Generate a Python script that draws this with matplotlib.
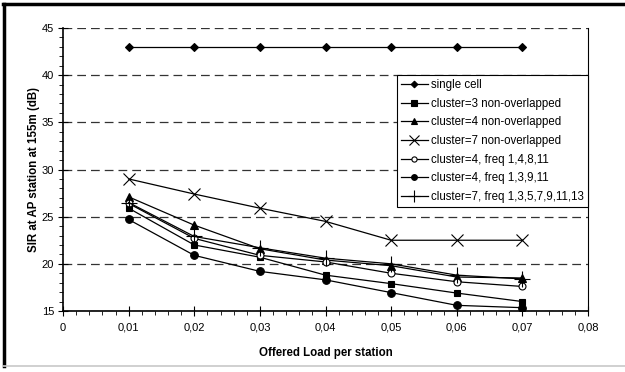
import matplotlib
matplotlib.use("Agg")
import matplotlib.pyplot as plt
from matplotlib.lines import Line2D
from matplotlib.ticker import MultipleLocator, FuncFormatter

plt.rcParams['font.family'] = ['Liberation Sans', 'DejaVu Sans']

load = [0.01, 0.02, 0.03, 0.04, 0.05, 0.06, 0.07]

single_cell = [43, 43, 43, 43, 43, 43, 43]
cl3_non = [25.9, 22.0, 20.7, 18.8, 17.9, 16.9, 16.0]
cl4_non = [27.1, 24.1, 21.6, 20.4, 19.8, 18.6, 18.5]
cl7_non = [29.0, 27.4, 25.9, 24.5, 22.5, 22.5, 22.5]
cl4_f14811 = [26.4, 22.7, 20.9, 20.2, 19.0, 18.1, 17.6]
cl4_f13911 = [24.7, 20.9, 19.2, 18.3, 16.95, 15.6, 15.35]
cl7_odd = [26.5, 22.9, 21.7, 20.6, 20.0, 18.8, 18.4]

names = ["single cell", "cluster=3 non-overlapped", "cluster=4 non-overlapped",
         "cluster=7 non-overlapped", "cluster=4, freq 1,4,8,11",
         "cluster=4, freq 1,3,9,11", "cluster=7, freq 1,3,5,7,9,11,13"]

fig = plt.figure(figsize=(6.25, 3.72), dpi=100)
ax = fig.add_axes([0.1008, 0.164, 0.84, 0.7607])

# marker, size, face, edge width
styles = [("D", 4.5, "black", 0.8),
          ("s", 5, "black", 0.8),
          ("^", 5.5, "black", 0.8),
          ("x", 9, "black", 0.8),
          ("o", 5, "white", 0.8),
          ("o", 5.5, "black", 0.8),
          ("+", 11, "black", 0.8)]
series = [single_cell, cl3_non, cl4_non, cl7_non, cl4_f14811, cl4_f13911, cl7_odd]

for vals, name, (m, ms, fc, mew) in zip(series, names, styles):
    ax.plot(load, vals, color="black", lw=0.9, marker=m, ms=ms,
            mfc=fc, mec="black", mew=mew, label=name)

ax.set_xlim(0, 0.08)
ax.set_ylim(15, 45)
ax.xaxis.set_major_locator(MultipleLocator(0.01))
ax.xaxis.set_minor_locator(MultipleLocator(0.002))
ax.yaxis.set_major_locator(MultipleLocator(5))
ax.yaxis.set_minor_locator(MultipleLocator(1))
ax.xaxis.set_major_formatter(FuncFormatter(
    lambda v, p: "0" if abs(v) < 1e-9 else ("%.2f" % v).replace(".", ",")))
ax.yaxis.set_major_formatter(FuncFormatter(lambda v, p: "%d" % v))

ax.tick_params(which="major", direction="inout", length=7, width=0.8,
               labelsize=8, pad=3, colors="black")
ax.tick_params(axis="x", which="major", pad=5)
ax.tick_params(which="minor", direction="out", length=3, width=0.6)

ax.grid(axis="y", which="major", linestyle=(0, (7, 4)), color="#333333", lw=0.9)
ax.spines["top"].set_visible(False)
for s in ["left", "bottom"]:
    ax.spines[s].set_linewidth(1.2)
ax.spines["right"].set_linewidth(0.8)

ax.set_xlabel("Offered Load per station", fontsize=8.3, fontweight="bold", labelpad=10)
ax.set_ylabel("SIR at AP station at 155m (dB)", fontsize=8.3, fontweight="bold", labelpad=1)

leg = ax.legend(loc="upper right", bbox_to_anchor=(1.0, 0.834), fontsize=8.3,
                frameon=True, fancybox=False, framealpha=1, edgecolor="black",
                handlelength=2.3, handletextpad=0.3, labelspacing=0.58,
                borderpad=0.35, borderaxespad=0, markerscale=0.75)
leg.get_frame().set_linewidth(0.8)

# outer chart frame
fig.add_artist(Line2D([0.005, 1.0], [0.988, 0.988], color="black", lw=2.5,
                      transform=fig.transFigure))
fig.add_artist(Line2D([0.0064, 0.0064], [0.016, 0.99], color="black", lw=2.5,
                      transform=fig.transFigure))
fig.add_artist(Line2D([0.005, 1.0], [0.016, 0.016], color="#c8c8c8", lw=1.2,
                      transform=fig.transFigure))

fig.savefig("out.png", dpi=100)
